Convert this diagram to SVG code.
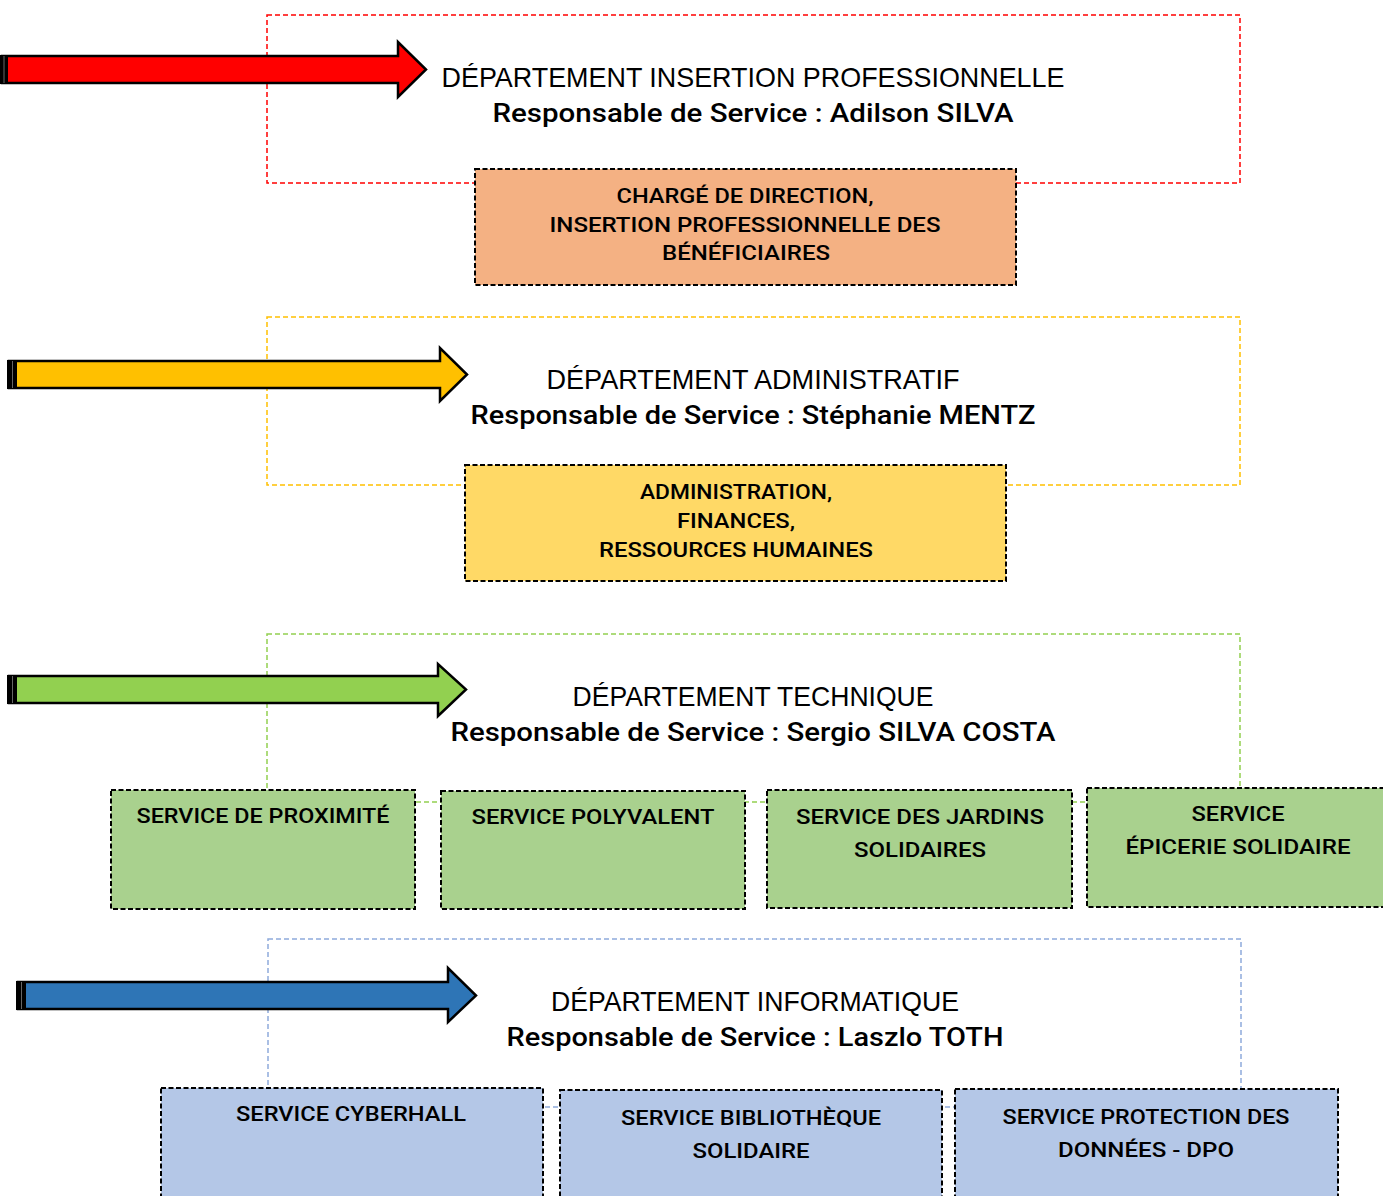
<svg xmlns="http://www.w3.org/2000/svg" width="1383" height="1196" viewBox="0 0 1383 1196">
<style>
  text { font-family: "Liberation Sans", "DejaVu Sans", sans-serif; fill: #000; text-anchor: middle; }
  .t { font-size: 28px; }
  .s { font-family: Roboto, "Liberation Sans", sans-serif; font-size: 26px; font-weight: 500; }
  .b { font-family: Roboto, "Liberation Sans", sans-serif; font-size: 21px; font-weight: 500; }
  .dep { fill: none; stroke-width: 1.5; stroke-dasharray: 5 3; }
  .box { stroke: #000; stroke-width: 2; stroke-dasharray: 5 2.5; }
  .arrow { stroke: #000; stroke-width: 2.5; stroke-linejoin: miter; }
</style>
<g id="connectors">
  <rect class="dep" x="267" y="15" width="973" height="168" stroke="#FF0000"/>
  <rect class="dep" x="267" y="317" width="973" height="168" stroke="#FFC000"/>
  <rect class="dep" x="267" y="634" width="973" height="168" stroke="#92D050"/>
  <rect class="dep" x="268" y="939" width="973" height="168" stroke="#8FAADC"/>
</g>
<g id="arrow-red">
  <path class="arrow" fill="#FF0000" d="M2,56 H398 V42 L426,69.5 L398,97 V83 H2 Z"/>
  <rect x="0" y="55" width="8" height="29" fill="#000"/>
  <rect x="3.5" y="56" width="1" height="27" fill="#666"/>
</g>
<g id="arrow-yellow">
  <path class="arrow" fill="#FFC000" d="M9,361 H440 V348 L467,374.5 L440,401 V388 H9 Z"/>
  <rect x="7" y="360" width="10" height="29" fill="#000"/>
  <rect x="12" y="361" width="1" height="27" fill="#666"/>
</g>
<g id="arrow-green">
  <path class="arrow" fill="#92D050" d="M9,676 H438 V664 L466,689.5 L438,716 V703 H9 Z"/>
  <rect x="7" y="675" width="10" height="29" fill="#000"/>
  <rect x="12" y="676" width="1" height="27" fill="#666"/>
</g>
<g id="arrow-blue">
  <path class="arrow" fill="#2E75B6" d="M18,982 H448 V968 L476,995.5 L448,1022 V1009 H18 Z"/>
  <rect x="16" y="981" width="10" height="29" fill="#000"/>
  <rect x="21" y="982" width="1" height="27" fill="#666"/>
</g>

<g id="dept-insertion">
  <text class="t" x="753" y="87" textLength="623" lengthAdjust="spacingAndGlyphs">DÉPARTEMENT INSERTION PROFESSIONNELLE</text>
  <text class="s" x="753" y="122" textLength="521" lengthAdjust="spacingAndGlyphs">Responsable de Service : Adilson SILVA</text>
</g>
<g id="box-insertion">
  <rect class="box" x="475" y="169" width="541" height="116" fill="#F4B183"/>
  <text class="b" x="745" y="203" textLength="257" lengthAdjust="spacingAndGlyphs">CHARGÉ DE DIRECTION,</text>
  <text class="b" x="745" y="232" textLength="391" lengthAdjust="spacingAndGlyphs">INSERTION PROFESSIONNELLE DES</text>
  <text class="b" x="746" y="260" textLength="168" lengthAdjust="spacingAndGlyphs">BÉNÉFICIAIRES</text>
</g>

<g id="dept-admin">
  <text class="t" x="753" y="389" textLength="413" lengthAdjust="spacingAndGlyphs">DÉPARTEMENT ADMINISTRATIF</text>
  <text class="s" x="753" y="424" textLength="565" lengthAdjust="spacingAndGlyphs">Responsable de Service : Stéphanie MENTZ</text>
</g>
<g id="box-admin">
  <rect class="box" x="465" y="465" width="541" height="116" fill="#FFD966"/>
  <text class="b" x="736" y="499" textLength="192" lengthAdjust="spacingAndGlyphs">ADMINISTRATION,</text>
  <text class="b" x="736" y="528" textLength="118" lengthAdjust="spacingAndGlyphs">FINANCES,</text>
  <text class="b" x="736" y="557" textLength="274" lengthAdjust="spacingAndGlyphs">RESSOURCES HUMAINES</text>
</g>

<g id="dept-technique">
  <text class="t" x="753" y="706" textLength="361" lengthAdjust="spacingAndGlyphs">DÉPARTEMENT TECHNIQUE</text>
  <text class="s" x="753" y="741" textLength="605" lengthAdjust="spacingAndGlyphs">Responsable de Service : Sergio SILVA COSTA</text>
</g>
<g id="svc-proximite">
  <rect class="box" x="111" y="790" width="304" height="119" fill="#A9D18E"/>
  <text class="b" x="263" y="823" textLength="253" lengthAdjust="spacingAndGlyphs">SERVICE DE PROXIMITÉ</text>
</g>
<g id="svc-polyvalent">
  <rect class="box" x="441" y="791" width="304" height="118" fill="#A9D18E"/>
  <text class="b" x="593" y="824" textLength="243" lengthAdjust="spacingAndGlyphs">SERVICE POLYVALENT</text>
</g>
<g id="svc-jardins">
  <rect class="box" x="767" y="790" width="305" height="118" fill="#A9D18E"/>
  <text class="b" x="920" y="824" textLength="248" lengthAdjust="spacingAndGlyphs">SERVICE DES JARDINS</text>
  <text class="b" x="920" y="857" textLength="132" lengthAdjust="spacingAndGlyphs">SOLIDAIRES</text>
</g>
<g id="svc-epicerie">
  <rect class="box" x="1087" y="788" width="300" height="119" fill="#A9D18E"/>
  <text class="b" x="1238" y="821" textLength="93" lengthAdjust="spacingAndGlyphs">SERVICE</text>
  <text class="b" x="1238" y="854" textLength="225" lengthAdjust="spacingAndGlyphs">ÉPICERIE SOLIDAIRE</text>
</g>

<g id="dept-informatique">
  <text class="t" x="755" y="1011" textLength="408" lengthAdjust="spacingAndGlyphs">DÉPARTEMENT INFORMATIQUE</text>
  <text class="s" x="755" y="1046" textLength="497" lengthAdjust="spacingAndGlyphs">Responsable de Service : Laszlo TOTH</text>
</g>
<g id="svc-cyberhall">
  <rect class="box" x="161" y="1088" width="382" height="112" fill="#B4C7E7"/>
  <text class="b" x="351" y="1121" textLength="230" lengthAdjust="spacingAndGlyphs">SERVICE CYBERHALL</text>
</g>
<g id="svc-bibliotheque">
  <rect class="box" x="560" y="1090" width="382" height="110" fill="#B4C7E7"/>
  <text class="b" x="751" y="1125" textLength="260" lengthAdjust="spacingAndGlyphs">SERVICE BIBLIOTHÈQUE</text>
  <text class="b" x="751" y="1158" textLength="117" lengthAdjust="spacingAndGlyphs">SOLIDAIRE</text>
</g>
<g id="svc-dpo">
  <rect class="box" x="955" y="1089" width="383" height="111" fill="#B4C7E7"/>
  <text class="b" x="1146" y="1124" textLength="287" lengthAdjust="spacingAndGlyphs">SERVICE PROTECTION DES</text>
  <text class="b" x="1146" y="1157" textLength="176" lengthAdjust="spacingAndGlyphs">DONNÉES - DPO</text>
</g>
</svg>
